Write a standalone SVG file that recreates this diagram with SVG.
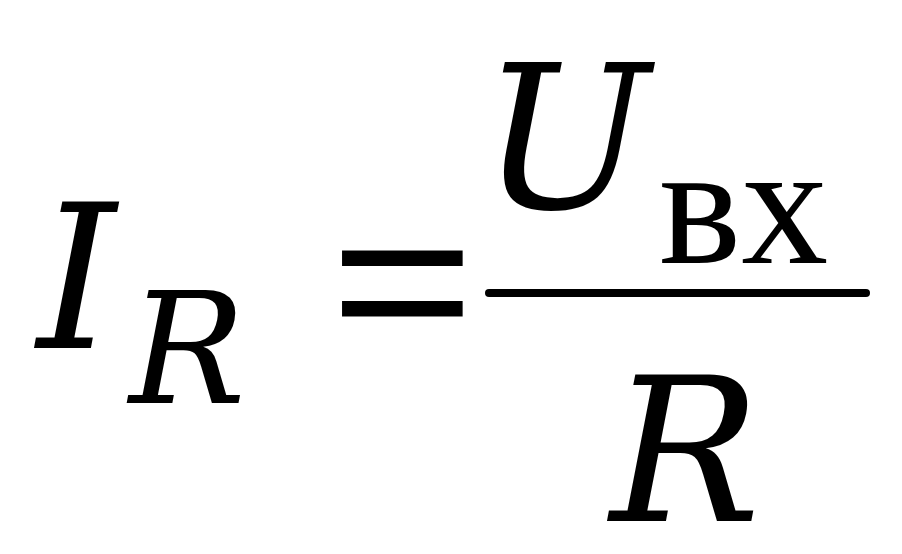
<svg xmlns="http://www.w3.org/2000/svg" width="902" height="554" viewBox="0 0 902 554">
<style>
.it{font-family:"DejaVu Serif","Liberation Serif",serif;font-style:italic;fill:#000}
.up{font-family:"Liberation Serif","DejaVu Serif",serif;fill:#000}
</style>
<rect width="902" height="554" fill="#fff"/>
<g id="lhs">
<text class="it" x="37" y="348" font-size="200">I</text>
<text class="it" x="129" y="403" font-size="155">R</text>
</g>
<g id="equals">
<text class="up" transform="translate(331,367) scale(0.88,0.88)" font-size="287" stroke="#000" stroke-width="3.5">=</text>
</g>
<g id="fraction">
<text class="it" x="481" y="208" font-size="200">U</text>
<text class="up" x="659" y="263" font-size="174">вх</text>
<line x1="489" y1="293" x2="866" y2="293" stroke="#000" stroke-width="8" stroke-linecap="round"/>
<text class="it" x="610" y="521" font-size="200">R</text>
</g>
</svg>
